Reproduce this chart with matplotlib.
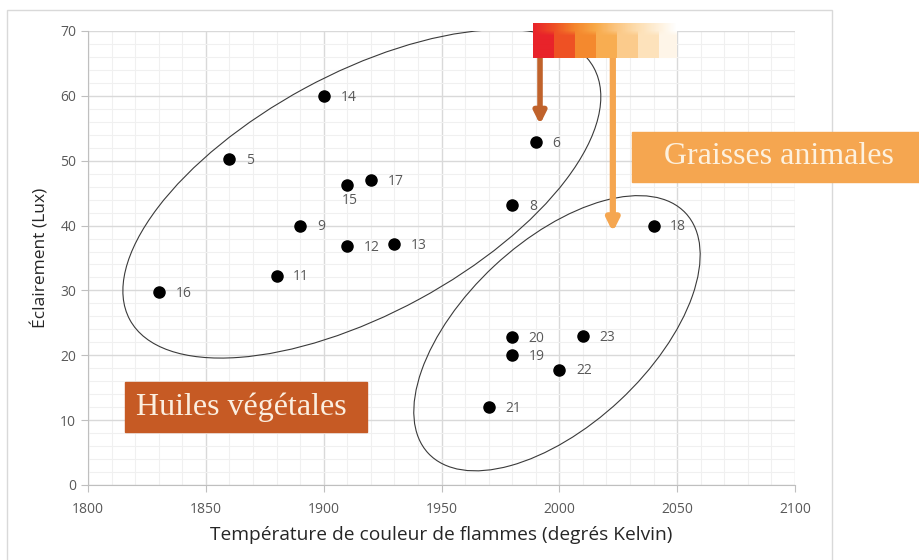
import numpy as np
import matplotlib
matplotlib.use("Agg")
import matplotlib.pyplot as plt
from matplotlib.patches import Ellipse, Rectangle
from matplotlib.transforms import ScaledTranslation
from matplotlib.colors import LinearSegmentedColormap
from matplotlib.ticker import MultipleLocator

plt.rcParams["font.family"] = ["Open Sans", "DejaVu Sans"]

# échantillons : température de flamme (K) et éclairement (lux)
sample_ids = [5, 6, 8, 9, 11, 12, 13, 14, 15, 16, 17, 18, 19, 20, 21, 22, 23]
temperature = [1860, 1990, 1980, 1890, 1880, 1910, 1930, 1900, 1910, 1830,
               1920, 2040, 1980, 1980, 1970, 2000, 2010]
lux = [50.2, 52.9, 43.2, 40.0, 32.3, 36.9, 37.2, 60.0, 46.2, 29.8,
       47.0, 40.0, 20.0, 22.8, 12.0, 17.8, 22.9]
labels_below = [15]

x_ticks = [1800, 1850, 1900, 1950, 2000, 2050, 2100]
y_ticks = [0, 10, 20, 30, 40, 50, 60, 70]

flame_colors = ["#e8232a", "#ee4e24", "#f4842b", "#f8a846", "#fbc47e",
                "#fddcac", "#feeed6", "#ffffff"]

GRAY_TXT = "#595959"
VEG_COLOR = "#c65a24"
ANIM_COLOR = "#f5a650"

fig = plt.figure(figsize=(9.2, 5.6), dpi=100)
W, H = 920, 560

# cadre du graphique
fig.patches.append(Rectangle((7 / W, -0.01), (832 - 7) / W, (560 - 10) / H + 0.01,
                             transform=fig.transFigure, fill=False,
                             edgecolor="#d9d9d9", lw=1))

ax = fig.add_axes([88 / W, 75 / H, 707 / W, 454 / H])
ax.set_xlim(x_ticks[0], x_ticks[-1])
ax.set_ylim(y_ticks[0], y_ticks[-1])
ax.set_xticks(x_ticks)
ax.set_yticks(y_ticks)
ax.xaxis.set_minor_locator(MultipleLocator(10))
ax.yaxis.set_minor_locator(MultipleLocator(2))
ax.grid(which="major", color="#d9d9d9", lw=1)
ax.grid(which="minor", color="#f0f0f0", lw=0.8)
ax.set_axisbelow(True)
for side in ["top", "right"]:
    ax.spines[side].set_visible(False)
for side in ["left", "bottom"]:
    ax.spines[side].set_color("#bfbfbf")
ax.tick_params(which="major", length=5, color="#bfbfbf", labelcolor=GRAY_TXT,
               labelsize=10)
ax.tick_params(which="minor", length=0)
ax.tick_params(axis="x", pad=7)

ax.set_xlabel("Température de couleur de flammes (degrés Kelvin)",
              fontsize=13.8, color="#262626", labelpad=7)
ax.set_ylabel("Éclairement (Lux)", fontsize=12.5, color="#262626", labelpad=8)

ax.scatter(temperature, lux, s=64, color="black", zorder=4, clip_on=False)
for sid, tx, ly in zip(sample_ids, temperature, lux):
    if sid in labels_below:
        ax.annotate(str(sid), (tx, ly), xytext=(2, -11), textcoords="offset points",
                    ha="center", va="center", fontsize=10, color=GRAY_TXT)
    else:
        ax.annotate(str(sid), (tx, ly), xytext=(12, -1), textcoords="offset points",
                    ha="left", va="center", fontsize=10, color=GRAY_TXT)

# regroupements (taille en pouces, centre en données)
groups = [
    ((1916.2, 44.9), 5.28, 2.40, 28.5),
    ((1999.0, 23.4), 3.52, 1.84, 43.0),
]
for (cx, cy), w, h, ang in groups:
    ax.add_patch(Ellipse((0, 0), w, h, angle=ang, fill=False,
                         edgecolor="#3a3a3a", lw=0.8, zorder=3,
                         transform=fig.dpi_scale_trans
                         + ScaledTranslation(cx, cy, ax.transData)))

# barre de couleur des flammes
cmap = LinearSegmentedColormap.from_list("flamme", flame_colors)
smooth = cmap(np.linspace(0, 1, 144))
steps = cmap(np.repeat(np.linspace(0, 1, 7) * 0.92, 21)[:144])
img = np.stack([smooth, smooth, steps, steps, steps, steps, steps])
cax = fig.add_axes([533 / W, (560 - 58) / H, 144 / W, 35 / H])
cax.imshow(img, aspect="auto", interpolation="bilinear")
cax.set_axis_off()

# flèches
ax.annotate("", xy=(1991.8, 55.6), xytext=(1991.8, 65.8),
            arrowprops=dict(arrowstyle="-|>,head_width=0.35,head_length=0.7",
                            lw=4, color="#c0622b", shrinkA=0, shrinkB=0),
            annotation_clip=False, zorder=5)
ax.annotate("", xy=(2022.7, 39.0), xytext=(2022.7, 65.8),
            arrowprops=dict(arrowstyle="-|>,head_width=0.35,head_length=0.7",
                            lw=4.5, color=ANIM_COLOR, shrinkA=0, shrinkB=0),
            annotation_clip=False, zorder=5)

# étiquettes des familles
fig.patches.append(Rectangle((632 / W, (560 - 182) / H), (920 - 632) / W, 50 / H,
                             transform=fig.transFigure, color=ANIM_COLOR, zorder=6))
fig.text(779 / W, (560 - 157) / H, "Graisses animales", ha="center", va="center",
         family="Liberation Serif", fontsize=23, color="#fdf1de", zorder=7)
fig.patches.append(Rectangle((125 / W, (560 - 432) / H), (367 - 125) / W, 50 / H,
                             transform=fig.transFigure, color=VEG_COLOR, zorder=6))
fig.text(241 / W, (560 - 407) / H, "Huiles végétales", ha="center", va="center",
         family="Liberation Serif", fontsize=23, color="#fbeedf", zorder=7)

fig.savefig("out.png", dpi=100)
